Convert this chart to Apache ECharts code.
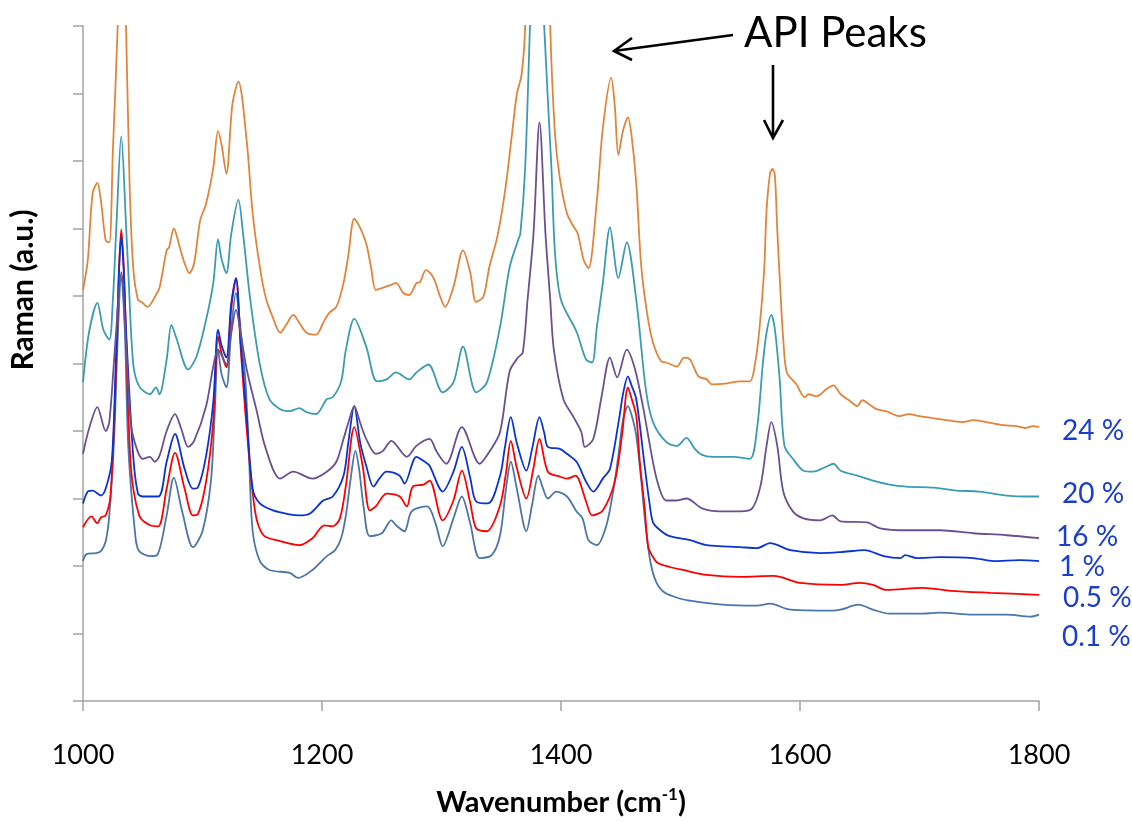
<!DOCTYPE html>
<html><head><meta charset="utf-8">
<script src="https://cdn.jsdelivr.net/npm/echarts@6/dist/echarts.min.js"></script>
<style>html,body{margin:0;padding:0;background:#fff}#c{width:1132px;height:822px}</style>
</head><body><div id="c"></div>
<script>
// wavenumber ticks (cm-1)
const xTicks = [1000, 1200, 1400, 1600, 1800];
// intensity axis (a.u.), unlabeled ticks
const yTickCount = 10;
const yTickStep = 68;

const seriesNames = ['0.1 %', '0.5 %', '1 %', '16 %', '20 %', '24 %'];

// [wavenumber, intensity]
const spec01 = [[1000,141],[1003,148],[1011,149],[1015,151],[1019,161],[1022,187],[1026,264],[1029,364],[1032,429],[1035,374],[1038,254],[1044,164],[1047,151],[1056,146],[1062,147],[1070,187],[1076,225],[1083,191],[1092,155],[1100,171],[1107,221],[1110,284],[1113,354],[1116,329],[1120,316],[1124,374],[1128,411],[1131,384],[1136,321],[1139,244],[1142,171],[1148,141],[1156,132],[1173,129],[1180,124],[1192,132],[1204,146],[1211,152],[1216,164],[1220,187],[1224,224],[1228,252],[1231,234],[1235,194],[1240,166],[1250,169],[1258,182],[1262,177],[1269,171],[1275,191],[1288,196],[1295,179],[1301,156],[1310,184],[1317,206],[1324,179],[1332,144],[1342,147],[1349,167],[1354,214],[1358,241],[1363,214],[1371,171],[1376,199],[1381,227],[1385,214],[1389,204],[1396,211],[1405,206],[1413,191],[1418,184],[1423,162],[1430,157],[1438,177],[1444,214],[1448,247],[1452,284],[1456,297],[1460,284],[1463,267],[1467,224],[1471,174],[1475,139],[1480,119],[1487,109],[1500,103],[1508,101],[1535,97],[1564,96],[1575,98],[1592,92],[1627,91],[1634,92],[1649,97],[1661,92],[1675,88],[1703,88],[1717,89],[1745,87],[1773,87],[1793,85],[1800,87]];

const spec05 = [[1000,175],[1007,186],[1012,179],[1015,185],[1019,187],[1023,207],[1027,310],[1030,430],[1032,475],[1034,440],[1036,370],[1040,237],[1047,187],[1056,177],[1063,176],[1070,214],[1077,250],[1085,214],[1092,187],[1096,188],[1103,221],[1109,281],[1113,367],[1116,350],[1120,336],[1124,395],[1128,426],[1132,355],[1137,274],[1144,191],[1151,167],[1165,161],[1181,157],[1192,164],[1202,177],[1209,176],[1215,184],[1220,217],[1227,276],[1234,237],[1240,192],[1245,196],[1254,209],[1265,206],[1271,196],[1276,216],[1285,218],[1290,222],[1301,182],[1310,202],[1317,232],[1324,200],[1329,174],[1338,171],[1349,197],[1354,230],[1358,262],[1363,235],[1371,204],[1377,235],[1382,264],[1389,231],[1399,226],[1405,224],[1412,227],[1421,201],[1426,187],[1435,192],[1445,221],[1451,267],[1456,316],[1459,305],[1463,287],[1466,240],[1470,195],[1473,155],[1477,145],[1481,139],[1491,135],[1502,132],[1522,127],[1550,125],[1578,126],[1600,119],[1634,117],[1650,119],[1661,117],[1672,112],[1703,114],[1726,111],[1759,109],[1800,107]];

const spec1 = [[1000,199],[1004,211],[1008,212],[1015,207],[1019,214],[1024,241],[1027,324],[1030,430],[1032,469],[1034,435],[1036,374],[1042,247],[1046,209],[1050,206],[1063,206],[1070,241],[1077,269],[1085,234],[1092,214],[1096,215],[1103,247],[1109,301],[1113,374],[1116,358],[1120,346],[1124,400],[1128,426],[1132,360],[1137,287],[1142,214],[1148,199],[1159,192],[1173,188],[1181,187],[1190,189],[1201,202],[1209,206],[1218,227],[1222,260],[1227,297],[1232,260],[1237,237],[1243,216],[1248,224],[1254,231],[1265,227],[1269,219],[1279,246],[1286,241],[1290,237],[1301,211],[1310,231],[1317,256],[1324,225],[1329,201],[1339,199],[1349,227],[1353,255],[1358,286],[1363,260],[1371,232],[1376,255],[1382,286],[1386,270],[1389,256],[1399,254],[1405,249],[1413,241],[1421,221],[1427,211],[1435,224],[1441,234],[1449,287],[1452,310],[1456,327],[1459,318],[1463,304],[1470,237],[1474,200],[1477,180],[1483,172],[1491,166],[1508,162],[1522,157],[1550,155],[1564,154],[1575,159],[1592,152],[1617,149],[1634,150],[1654,152],[1670,146],[1684,144],[1688,147],[1698,144],[1717,145],[1745,144],[1762,141],[1784,142],[1800,141]];

const spec16 = [[1000,249],[1005,274],[1012,296],[1019,272],[1022,281],[1027,360],[1032,432],[1036,360],[1040,280],[1045,254],[1050,244],[1056,246],[1060,241],[1064,247],[1070,272],[1077,289],[1082,275],[1088,256],[1093,262],[1103,297],[1109,337],[1113,354],[1120,339],[1124,370],[1128,394],[1132,370],[1137,334],[1145,294],[1153,254],[1165,224],[1176,231],[1192,224],[1204,231],[1212,241],[1218,264],[1222,280],[1227,297],[1232,280],[1237,264],[1245,249],[1251,252],[1258,262],[1271,246],[1279,257],[1290,264],[1296,251],[1304,239],[1317,276],[1332,239],[1340,251],[1349,271],[1357,332],[1364,346],[1368,351],[1372,404],[1377,471],[1382,583],[1387,471],[1391,404],[1394,354],[1402,304],[1410,287],[1417,271],[1420,256],[1427,264],[1434,307],[1441,346],[1447,326],[1455,354],[1462,334],[1469,294],[1473,267],[1480,224],[1488,202],[1497,202],[1505,204],[1518,194],[1533,191],[1550,191],[1560,194],[1567,217],[1572,257],[1576,281],[1581,257],[1586,211],[1594,191],[1603,184],[1617,182],[1627,187],[1634,181],[1656,180],[1667,174],[1689,172],[1717,172],[1745,169],[1773,167],[1800,164]];

const spec20 = [[1000,321],[1005,371],[1012,401],[1017,374],[1022,364],[1025,404],[1028,480],[1032,569],[1036,480],[1038,430],[1042,340],[1047,317],[1056,309],[1061,316],[1064,309],[1070,344],[1074,379],[1078,366],[1088,334],[1095,347],[1103,384],[1109,421],[1113,465],[1116,445],[1120,431],[1124,470],[1130,505],[1134,470],[1140,404],[1148,339],[1156,304],[1165,294],[1173,292],[1181,295],[1187,291],[1195,289],[1204,304],[1209,306],[1216,322],[1220,354],[1227,385],[1237,357],[1246,322],[1254,324],[1262,331],[1273,324],[1279,331],[1289,339],[1301,311],[1310,321],[1318,357],[1329,311],[1338,321],[1349,377],[1357,437],[1364,464],[1366,471],[1370,537],[1374,678],[1380,880],[1386,678],[1392,537],[1395,451],[1400,404],[1413,372],[1421,344],[1426,341],[1430,377],[1435,421],[1441,477],[1448,426],[1455,462],[1463,404],[1471,314],[1477,281],[1488,261],[1497,257],[1505,265],[1512,254],[1518,248],[1527,246],[1544,246],[1558,244],[1564,274],[1569,341],[1572,371],[1576,389],[1579,374],[1583,324],[1587,257],[1594,244],[1603,232],[1611,231],[1622,236],[1628,239],[1634,232],[1648,227],[1661,222],[1675,218],[1689,216],[1712,215],[1731,212],[1750,211],[1773,207],[1790,206],[1800,206]];

const spec24 = [[1000,414],[1004,444],[1008,511],[1012,522],[1015,504],[1019,464],[1022,462],[1025,554],[1029,679],[1032,820],[1036,679],[1039,520],[1042,437],[1046,404],[1049,402],[1054,397],[1061,409],[1064,416],[1070,454],[1072,457],[1076,476],[1081,457],[1085,441],[1089,431],[1093,441],[1098,484],[1103,501],[1109,537],[1113,574],[1116,560],[1120,531],[1125,601],[1130,624],[1137,564],[1142,491],[1148,437],[1153,406],[1159,386],[1165,371],[1170,379],[1176,389],[1181,381],[1187,371],[1195,369],[1201,381],[1206,391],[1212,397],[1218,421],[1222,449],[1227,486],[1231,479],[1237,461],[1241,437],[1245,414],[1250,416],[1257,419],[1262,421],[1268,411],[1273,409],[1279,421],[1282,422],[1287,434],[1293,427],[1299,407],[1303,397],[1310,417],[1318,454],[1324,432],[1329,402],[1335,407],[1340,437],[1346,464],[1350,489],[1354,521],[1359,571],[1363,611],[1367,631],[1370,679],[1376,950],[1381,1150],[1386,950],[1391,679],[1395,571],[1399,527],[1405,491],[1410,479],[1414,471],[1419,444],[1423,436],[1430,504],[1435,577],[1442,628],[1445,600],[1448,550],[1452,575],[1456,588],[1459,570],[1463,521],[1467,440],[1472,391],[1477,361],[1484,342],[1488,341],[1497,337],[1503,346],[1508,344],[1515,327],[1522,324],[1526,319],[1539,320],[1550,322],[1558,322],[1562,337],[1566,374],[1570,434],[1572,494],[1575,532],[1577,536],[1579,529],[1581,474],[1584,404],[1586,364],[1589,331],[1597,319],[1604,306],[1607,309],[1614,307],[1622,314],[1628,318],[1634,309],[1642,302],[1648,297],[1652,303],[1659,298],[1664,294],[1672,292],[1683,287],[1691,289],[1700,287],[1717,284],[1736,281],[1745,283],[1756,281],[1770,278],[1781,277],[1788,275],[1795,277],[1800,276]];

const allSpectra = [spec01, spec05, spec1, spec16, spec20, spec24];
const lineColors = ['#4A76AC', '#FF0000', '#0B33D2', '#6A5092', '#3A9CB4', '#E2843A'];

// right-hand concentration labels (top to bottom)
const curveLabels = ['24 %', '20 %', '16 %', '1 %', '0.5 %', '0.1 %'];
const curveLabelPos = [[1062,431],[1062,494],[1056,537],[1059,567],[1063,598],[1062,637]];

const chart = echarts.init(document.getElementById('c'), null, {renderer: 'canvas'});
const FONT = 'Lato, "Open Sans", sans-serif';

const option = {
  animation: false,
  backgroundColor: '#ffffff',
  grid: {left: 83, right: 93, top: 26, bottom: 118, containLabel: false},
  xAxis: {
    type: 'value',
    min: xTicks[0], max: xTicks[xTicks.length - 1], interval: xTicks[1] - xTicks[0],
    splitLine: {show: false},
    axisLine: {onZero: false, lineStyle: {color: '#A3A3A3', width: 1.5}},
    axisTick: {show: true, length: 10, lineStyle: {color: '#A3A3A3', width: 1.5}},
    axisLabel: {color: '#000', fontSize: 27, fontFamily: FONT, margin: 41, formatter: v => String(v)},
    name: 'Wavenumber (cm{sup|-1})',
    nameLocation: 'middle', nameGap: 85,
    nameTextStyle: {color: '#000', fontSize: 29, fontWeight: 'bold', fontFamily: FONT,
      rich: {sup: {fontSize: 17, fontWeight: 'bold', fontFamily: FONT, color: '#000', padding: [0, 0, 16, 0]}}}
  },
  yAxis: {
    type: 'value',
    min: 0, max: yTickCount * yTickStep, interval: yTickStep,
    splitLine: {show: false},
    axisLine: {show: true, lineStyle: {color: '#A3A3A3', width: 1.5}},
    axisTick: {show: true, length: 10, lineStyle: {color: '#A3A3A3', width: 1.5}},
    axisLabel: {show: false}
  },
  series: allSpectra.map((d, i) => ({
    name: seriesNames[i],
    type: 'line',
    data: d,
    showSymbol: false,
    smooth: 0.3,
    clip: true,
    silent: true,
    lineStyle: {color: lineColors[i], width: 1.8},
    itemStyle: {color: lineColors[i]},
    z: 2 + i
  })),
  graphic: [
    {type: 'text', x: 23, y: 290, rotation: Math.PI / 2,
      style: {text: 'Raman (a.u.)', fill: '#000', fontSize: 30, fontWeight: 'bold', fontFamily: FONT, align: 'center', verticalAlign: 'middle'}},
    {type: 'text', left: 744, top: 12, style: {text: 'API Peaks', fill: '#000', fontSize: 42, fontFamily: FONT}},
    {type: 'polyline', shape: {points: [[733, 35], [614, 51]]}, style: {stroke: '#000', lineWidth: 2.6, fill: null}},
    {type: 'polyline', shape: {points: [[632, 38], [614, 51], [632, 60]]}, style: {stroke: '#000', lineWidth: 2.6, fill: null}},
    {type: 'polyline', shape: {points: [[773, 65], [773, 137]]}, style: {stroke: '#000', lineWidth: 2.6, fill: null}},
    {type: 'polyline', shape: {points: [[764, 120], [773, 138], [783, 120]]}, style: {stroke: '#000', lineWidth: 2.6, fill: null}}
  ].concat(curveLabels.map((t, i) => ({
    type: 'text', x: curveLabelPos[i][0], y: curveLabelPos[i][1],
    style: {text: t, fill: '#1B3FCC', fontSize: 28, fontFamily: FONT, align: 'left', verticalAlign: 'middle'}
  })))
};
chart.setOption(option);
</script>
</body></html>
